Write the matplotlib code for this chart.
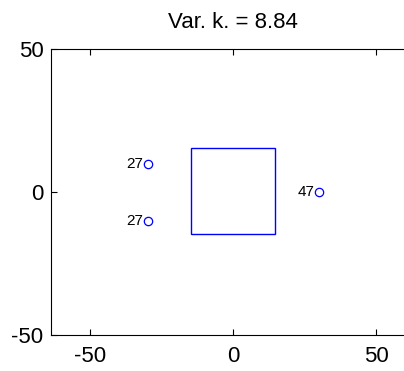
import matplotlib
matplotlib.use("Agg")
import matplotlib.pyplot as plt
from matplotlib.patches import Rectangle

plt.rcParams['font.family'] = ['Liberation Sans', 'DejaVu Sans']

title = "Var. k. = 8.84"
pt_x = [-30, -30, 30]
pt_y = [10, -10, 0]
pt_labels = ["27", "27", "47"]
square_x0, square_y0, square_w, square_h = -14.7, -14.7, 29.4, 30.1
xticks = [-50, 0, 50]
yticks = [-50, 0, 50]

fig = plt.figure(figsize=(4.04, 3.71), dpi=100)
ax = fig.add_axes([50.5/404, 36/371, (416-50.5)/404, (335-49.3)/371])
ax.set_xlim(-64, 64)
ax.set_ylim(-50, 50)

ax.add_patch(Rectangle((square_x0, square_y0), square_w, square_h,
                       fill=False, edgecolor='blue', linewidth=1.0))
ax.plot(pt_x, pt_y, 'o', mfc='none', mec='blue', ms=6, mew=0.9, linestyle='none')
for x, y, s in zip(pt_x, pt_y, pt_labels):
    ax.annotate(s, (x, y), xytext=(-3.5, 0), textcoords='offset points',
                ha='right', va='center', fontsize=11, color='black')

ax.set_xticks(xticks)
ax.set_yticks(yticks)
ax.set_xticklabels([str(t) for t in xticks])
ax.set_yticklabels([str(t) for t in yticks])
ax.tick_params(direction='in', length=4, width=0.8, labelsize=16,
               top=True, right=True, pad=5)
ax.tick_params(axis='x', pad=8)
for sp in ax.spines.values():
    sp.set_linewidth(0.8)
ax.set_title(title, fontsize=16, pad=15)

fig.savefig("out.png", dpi=100)
